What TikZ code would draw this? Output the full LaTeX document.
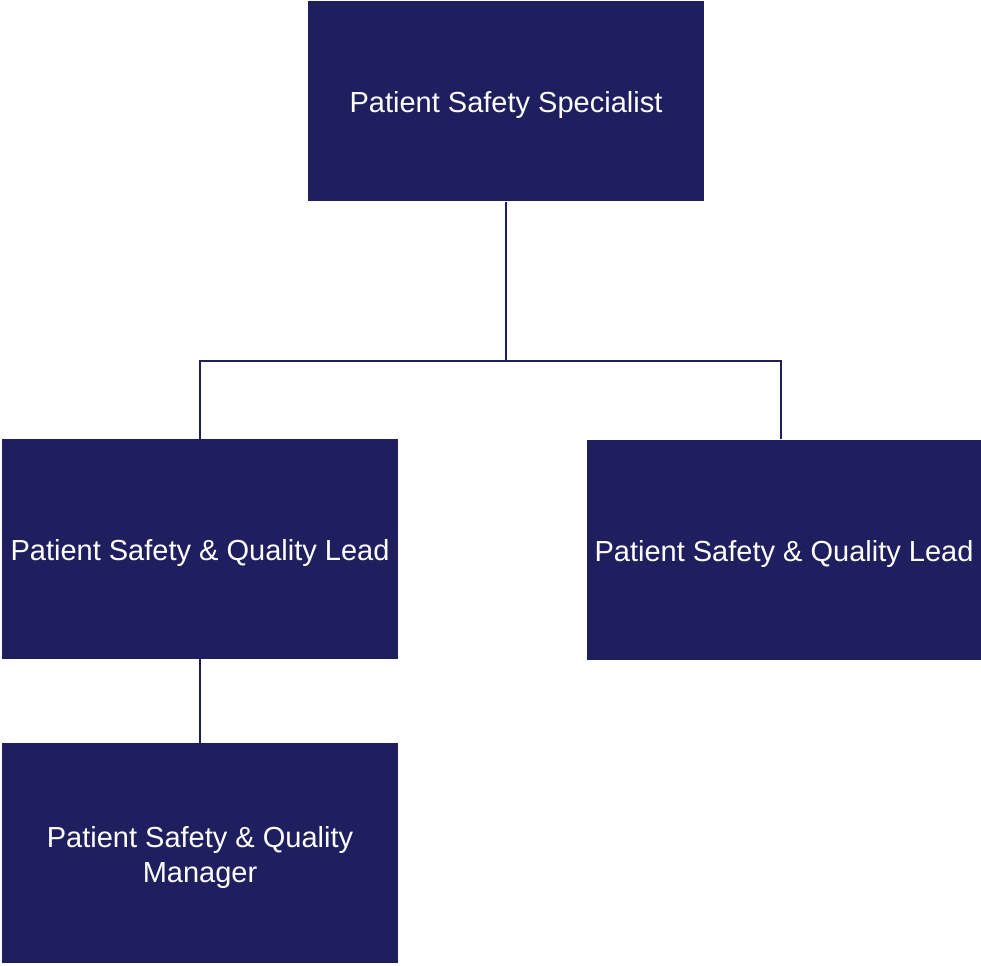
\documentclass[tikz,border=0pt]{standalone}
\usepackage{fontspec}
\setmainfont{Liberation Sans}
\definecolor{navy}{RGB}{31,31,96}
\begin{document}
\begin{tikzpicture}[x=1pt,y=-1pt,
  box/.style={draw=none,fill=navy,minimum width=396pt,minimum height=220pt,inner sep=0pt},
  txt/.style={text=white,inner sep=0pt,align=center,font=\fontsize{29}{35}\selectfont},
  link/.style={draw=navy,line width=2pt}]
\useasboundingbox (0,0) rectangle (981,965);
\node[box,minimum height=200pt] (top) at (506,101.5) {};
\node[box] (left) at (200,549) {};
\node[box,minimum width=394pt] (right) at (784,549.5) {};
\node[box] (bottom) at (200,853) {};
\node[txt] (ttop) at ([yshift=-4pt]top.center) {Patient Safety Specialist};
\node[txt] (tleft) at ([yshift=-4pt]left.center) {Patient Safety \& Quality Lead};
\node[txt] (tright) at ([yshift=-4pt]right.center) {Patient Safety \& Quality Lead};
\node[txt] (tbottom) at ([yshift=-4pt]bottom.center) {Patient Safety \& Quality\\Manager};
\coordinate (j) at (506,361);
\draw[link] (top.south) -- (j);
\draw[link] (left.north) |- (j) -| ([xshift=-3pt]right.north);
\draw[link] (left.south) -- (bottom.north);
\end{tikzpicture}
\end{document}
